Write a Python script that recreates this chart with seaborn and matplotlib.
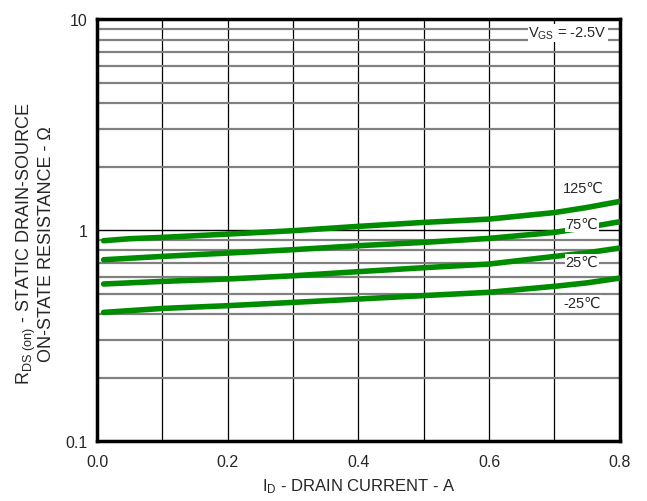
import numpy as np
import pandas as pd
import matplotlib
matplotlib.use("Agg")
import matplotlib.pyplot as plt
import seaborn as sns
from matplotlib.ticker import FixedLocator, NullFormatter

courant = [0.01, 0.05, 0.1, 0.2, 0.3, 0.4, 0.5, 0.6, 0.7, 0.75, 0.8]
r_125 = [0.89, 0.91, 0.923, 0.957, 0.993, 1.041, 1.087, 1.127, 1.21, 1.28, 1.367]
r_75 = [0.723, 0.735, 0.75, 0.778, 0.807, 0.843, 0.874, 0.913, 0.975, 1.03, 1.095]
r_25 = [0.555, 0.562, 0.571, 0.586, 0.607, 0.635, 0.663, 0.69, 0.75, 0.78, 0.822]
r_m25 = [0.407, 0.415, 0.425, 0.438, 0.454, 0.471, 0.489, 0.507, 0.541, 0.562, 0.592]
temperatures = ["125℃", "75℃", "25℃", "-25℃"]

x_ticks = [0.0, 0.2, 0.4, 0.6, 0.8]
y_ticks = [0.1, 1, 10]
y_tick_labels = ["0.1", "1", "10"]

df = pd.DataFrame({
    "Courant": courant * 4,
    "R": r_125 + r_75 + r_25 + r_m25,
    "Temp": [t for t in temperatures for _ in courant],
})

sns.set_style("white")
plt.rcParams["font.family"] = ["Liberation Sans", "DejaVu Sans"]
plt.rcParams["mathtext.fontset"] = "custom"
plt.rcParams["mathtext.rm"] = "Liberation Sans"
plt.rcParams["mathtext.it"] = "Liberation Sans"

fig = plt.figure(figsize=(6.47, 5.02), dpi=100)
ax = fig.add_axes([0.150, 0.1195, 0.808, 0.8405])
ax.set_yscale("log")

# grille : verticales noires, horizontales grises
for xv in np.arange(0.1, 0.8, 0.1):
    ax.axvline(xv, color="black", lw=0.9, zorder=1)
for dec in [0.1, 1]:
    for k in range(2, 10):
        ax.axhline(dec * k, color="#808080", lw=1.6, zorder=1)
ax.axhline(1, color="black", lw=1.0, zorder=1)

palette = {t: "#008c00" for t in temperatures}
sns.lineplot(data=df, x="Courant", y="R", hue="Temp", palette=palette,
             linewidth=4.0, legend=False, ax=ax, zorder=3)

ax.set_xlim(0, 0.8)
ax.set_ylim(0.1, 10)
ax.set_xticks(x_ticks)
ax.set_xticklabels([f"{v:.1f}" for v in x_ticks])
ax.yaxis.set_major_locator(FixedLocator(y_ticks))
ax.set_yticklabels(y_tick_labels)
ax.yaxis.set_minor_formatter(NullFormatter())
ax.tick_params(axis="both", which="both", length=0, labelsize=11.5)
ax.tick_params(axis="x", pad=9)
ax.tick_params(axis="y", pad=7)

for s in ax.spines.values():
    s.set_linewidth(2.5)
    s.set_color("black")

boite = dict(facecolor="white", edgecolor="none", pad=0.5)
ax.text(0.713, 1.59, "125℃", fontsize=10.5, ha="left", va="center", zorder=4)
ax.text(0.717, 1.07, "75℃", fontsize=10.5, ha="left", va="center", bbox=boite, zorder=4)
ax.text(0.717, 0.705, "25℃", fontsize=10.5, ha="left", va="center", bbox=boite, zorder=4)
ax.text(0.713, 0.452, "-25℃", fontsize=10.5, ha="left", va="center", bbox=boite, zorder=4)
ax.text(0.66, 8.6, "V$_{\\mathrm{GS}}$ = -2.5V", fontsize=10.5, ha="left", va="center",
        bbox=boite, zorder=4)

ax.set_xlabel("I$_{\\mathrm{D}}$ - DRAIN CURRENT - A", fontsize=12)
ax.xaxis.set_label_coords(0.5, -0.083)
ax.set_ylabel("R$_{\\mathrm{DS\\ (on)}}$ - STATIC DRAIN-SOURCE\nON-STATE RESISTANCE - Ω",
              fontsize=13, linespacing=1.0)
ax.yaxis.set_label_coords(-0.08, 0.47)

fig.savefig("out.png", dpi=100)
